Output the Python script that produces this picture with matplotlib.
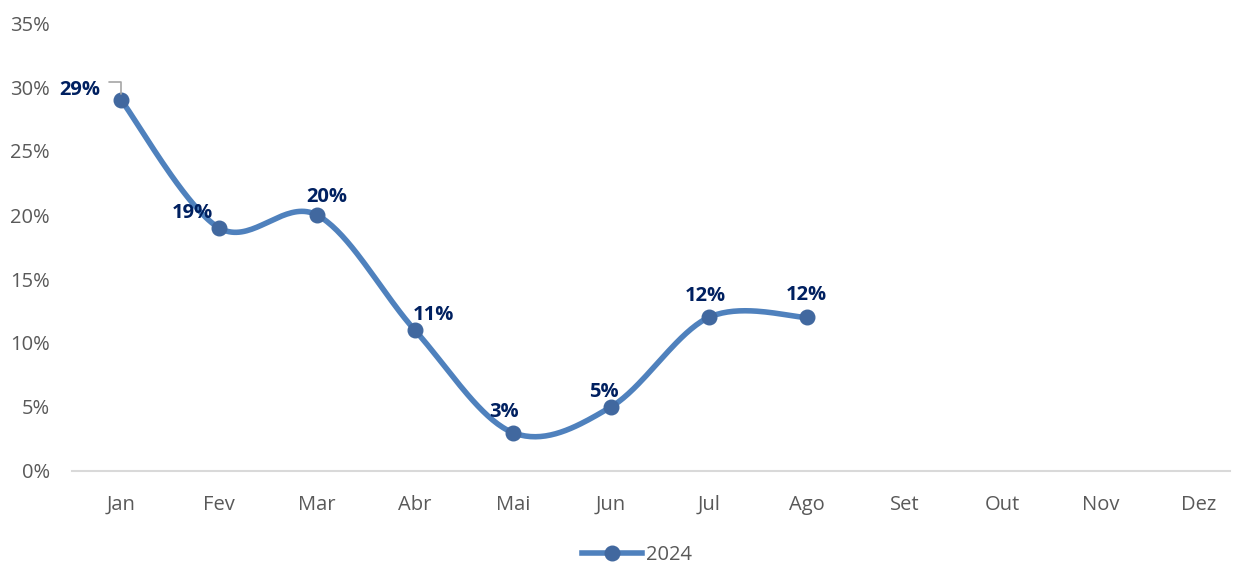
import numpy as np
import matplotlib
matplotlib.use("Agg")
import matplotlib.pyplot as plt
from matplotlib.lines import Line2D

months = ["Jan", "Fev", "Mar", "Abr", "Mai", "Jun", "Jul", "Ago", "Set", "Out", "Nov", "Dez"]
values_2024 = [29, 19, 20, 11, 3, 5, 12, 12]
series_name = "2024"

# label offsets in pixels (dx, dy, ha)
label_pos = [(-21, 10, "right"), (-27, 15, "center"), (10, 18, "center"), (19, 15, "center"),
             (-9, 21, "center"), (-7, 15, "center"), (-3, 21, "center"), (0, 22, "center")]

plt.rcParams['font.family'] = ['Open Sans', 'DejaVu Sans']

line_color = "#4F81BD"
marker_color = "#41689F"
label_color = "#002060"
tick_color = "#595959"

fig = plt.figure(figsize=(12.34, 5.66), dpi=100)
ax = fig.add_axes([72 / 1234, 1 - 471 / 566, (1230 - 72) / 1234, (471 - 23) / 566])

x = np.arange(len(values_2024), dtype=float)
y = np.array(values_2024, dtype=float)

# smoothed line like Excel: Catmull-Rom bezier in pixel-like space
sx, sy = 98.0, 12.8
pts = np.column_stack([x * sx, y * sy])
curve = []
for i in range(len(pts) - 1):
    p0 = pts[i - 1] if i > 0 else pts[i]
    p1 = pts[i]
    p2 = pts[i + 1]
    p3 = pts[i + 2] if i + 2 < len(pts) else pts[i + 1]
    c1 = p1 + (p2 - p0) / 6
    c2 = p2 - (p3 - p1) / 6
    t = np.linspace(0, 1, 40)[:, None]
    seg = (1 - t) ** 3 * p1 + 3 * (1 - t) ** 2 * t * c1 + 3 * (1 - t) * t ** 2 * c2 + t ** 3 * p2
    curve.append(seg)
curve = np.vstack(curve)
ax.plot(curve[:, 0] / sx, curve[:, 1] / sy, color=line_color, lw=4, solid_capstyle="round", zorder=2)
ax.plot(x, y, "o", color=marker_color, ms=10.5, zorder=3)

for i, v in enumerate(values_2024):
    dx, dy, ha = label_pos[i]
    ax.annotate(f"{v}%", (x[i], y[i]), xytext=(dx, dy), textcoords="offset pixels",
                ha=ha, va="center", fontsize=14.5, fontweight="bold", color=label_color, zorder=4)

# leader line for Jan label
ax.annotate("", (x[0], y[0] + 0.45), xytext=(-12, 12), textcoords="offset pixels",
            arrowprops=dict(arrowstyle="-", color="#A6A6A6", lw=1.2,
                            connectionstyle="angle,angleA=0,angleB=90,rad=0",
                            shrinkA=0, shrinkB=0))

ax.set_xlim(-0.5, 11.32)
ax.set_ylim(0, 35)
ax.set_xticks(range(len(months)))
ax.set_xticklabels(months)
ax.set_yticks(range(0, 36, 5))
ax.set_yticklabels([f"{t}%" for t in range(0, 36, 5)])
ax.tick_params(axis="both", length=0, labelsize=14.5, labelcolor=tick_color)
ax.tick_params(axis="x", pad=17)
ax.tick_params(axis="y", pad=16)
for s in ["top", "right", "left"]:
    ax.spines[s].set_visible(False)
ax.spines["bottom"].set_color("#D9D9D9")
ax.spines["bottom"].set_linewidth(1.5)

handle = Line2D([], [], color=line_color, lw=4, marker="o", ms=10.5, mfc=marker_color, mec=marker_color)
fig.legend([handle], [series_name], loc="center", bbox_to_anchor=(0.516, 1 - 555 / 566),
           frameon=False, fontsize=14.5, handlelength=3.0, handletextpad=0.2,
           labelcolor=tick_color)

fig.savefig("out.png", dpi=100)
